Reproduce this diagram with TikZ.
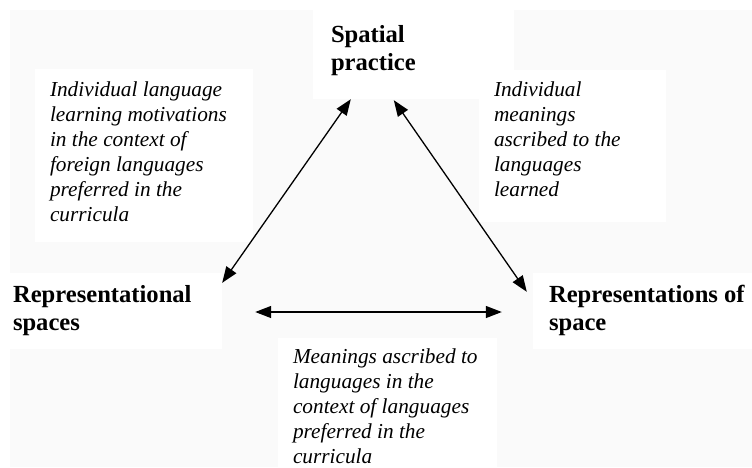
\documentclass[tikz,border=0pt]{standalone}
\usepackage{fontspec}
\setmainfont{Liberation Serif}
\usetikzlibrary{arrows.meta}
\definecolor{faintgrey}{RGB}{250,250,250}
\begin{document}
\begin{tikzpicture}[x=1pt,y=1pt,
    arrow/.style = {line width=1.3pt,{Triangle[length=16pt,width=12pt]}-{Triangle[length=16pt,width=12pt]}},
    box/.style = {fill=white,inner sep=0pt},
    head/.style = {anchor=base west,inner sep=0pt,align=left,
        font=\fontsize{24.6}{28}\selectfont\bfseries},
    note/.style = {anchor=base west,inner sep=0pt,align=left,
        font=\fontsize{21.3}{25}\selectfont\itshape}]
    \useasboundingbox (0,0) rectangle (752,-467);
    \fill[white] (0,0) rectangle (752,-467);
    \fill[faintgrey] (10,-10) rectangle (752,-467);

    \node[box,minimum width=201pt,minimum height=99pt] (spatialbox) at (413.5,-49.5) {};
    \node[box,minimum width=218pt,minimum height=173pt] (motivbox) at (144,-155.5) {};
    \node[box,minimum width=187pt,minimum height=152pt] (meaningbox) at (572.5,-146) {};
    \node[box,minimum width=212pt,minimum height=76pt] (repspacesbox) at (116,-311) {};
    \node[box,minimum width=219pt,minimum height=76pt] (repspacebox) at (642.5,-311) {};
    \node[box,minimum width=219pt,minimum height=129pt] (ascribedbox) at (387.5,-402.5) {};

    % base anchor sits on the last line
    \node[head] (spatial) at ([shift={(18pt,-71pt)}]spatialbox.north west)
        {Spatial\\practice};
    \node[head] (repspaces) at ([shift={(3pt,-58pt)}]repspacesbox.north west)
        {Representational\\spaces};
    \node[head] (repspace) at ([shift={(16pt,-58pt)}]repspacebox.north west)
        {Representations of\\space};
    \node[note] (motiv) at ([shift={(15pt,-153pt)}]motivbox.north west)
        {Individual language\\learning motivations\\in the context of\\foreign languages\\preferred in the\\curricula};
    \node[note] (meaning) at ([shift={(15pt,-127pt)}]meaningbox.north west)
        {Individual\\meanings\\ascribed to the\\languages\\learned};
    \node[note] (ascribed) at ([shift={(15pt,-126pt)}]ascribedbox.north west)
        {Meanings ascribed to\\languages in the\\context of languages\\preferred in the\\curricula};

    \draw[arrow] ([xshift=38pt]spatialbox.south west)
        -- ([yshift=-10pt]repspacesbox.north east);
    \draw[arrow] ([xshift=81pt,yshift=-1pt]spatialbox.south west)
        -- ([shift={(-6pt,-19pt)}]repspacebox.north west);
    \draw[arrow] ([shift={(33pt,-1pt)}]repspacesbox.east)
        -- ([shift={(-31pt,-1pt)}]repspacebox.west);
\end{tikzpicture}
\end{document}
